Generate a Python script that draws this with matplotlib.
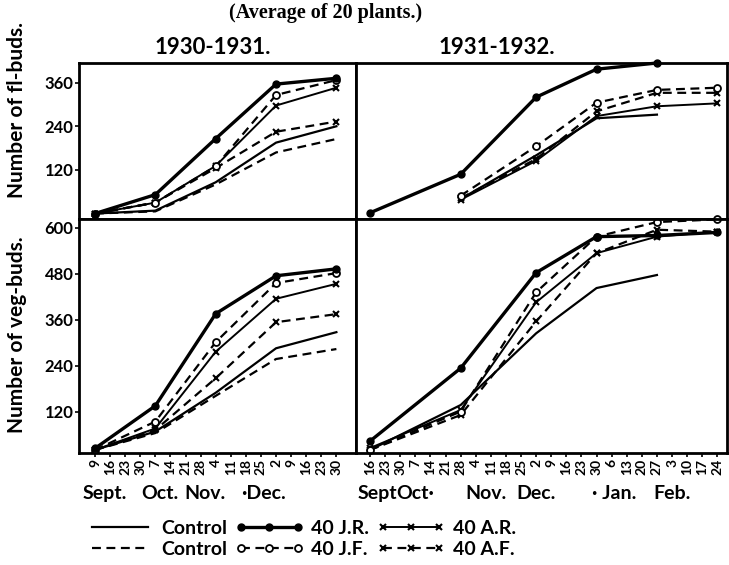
import matplotlib.pyplot as plt
from matplotlib.lines import Line2D

plt.rcParams['font.family'] = ['Lato', 'DejaVu Sans']
plt.rcParams['font.weight'] = 'bold'

# one tick per week
weeks_1930 = ['9', '16', '23', '30', '7', '14', '21', '28', '4', '11', '18', '25',
              '2', '9', '16', '23', '30']
weeks_1931 = ['16', '23', '30', '7', '14', '21', '28', '4', '11', '18', '25', '2',
              '9', '16', '23', '30', '6', '13', '20', '27', '3', '10', '17', '24']
months_1930 = ['Sept.', 'Oct.', 'Nov.', '·Dec.']
months_1931 = ['Sept', 'Oct·', 'Nov.', 'Dec.', '· Jan.', 'Feb.']

# counting dates, as week number from the first tick
obs_1930 = [0, 4, 8, 12, 16]
obs_1931 = [0, 6, 11, 15, 19, 23]

# flower buds 1930-31
fl30_control = [0, 8, 86, 195, 240]
fl30_control_f = [0, 6, 80, 168, 205]
fl30_jr = [0, 52, 206, 356, 372]
fl30_jf = [0, 30, 130, 326, 367]
fl30_ar = [0, 30, 131, 297, 346]
fl30_af = [0, 30, 125, 225, 253]

# flower buds 1931-32 (J.R. counted from Sept., the rest from end of Oct.)
fl31_jr = [2, 108, 320, 397, 414]
fl31_jf = [49, 185, 305, 340, 346]
fl31_ar = [38, 145, 268, 295, 303]
fl31_af = [42, 150, 281, 332, 332]
fl31_control = [40, 160, 262, 272]

# vegetative buds 1930-31
veg30_control = [21, 69, 170, 286, 328]
veg30_control_f = [21, 65, 162, 258, 284]
veg30_jr = [25, 136, 376, 475, 493]
veg30_jf = [21, 95, 302, 456, 482]
veg30_ar = [21, 77, 277, 415, 454]
veg30_af = [21, 73, 208, 354, 375]

# vegetative buds 1931-32
veg31_control = [21, 138, 325, 443, 477]
veg31_jr = [44, 234, 483, 577, 580, 588]
veg31_jf = [21, 121, 432, 577, 615, 622]
veg31_ar = [26, 125, 406, 534, 577, 590]
veg31_af = [21, 112, 356, 534, 595, 590]

dash = (0, (4, 2.5))
ctrl = dict(color='k', lw=1.6)
ctrl_f = dict(color='k', lw=1.6, ls=dash)
jr = dict(color='k', lw=2.4, marker='o', ms=5)
jf = dict(color='k', lw=1.6, ls=dash, marker='o', ms=5, mfc='white', mew=1.3)
ar = dict(color='k', lw=1.4, marker='x', ms=5, mew=1.5)
af = dict(color='k', lw=1.6, ls=dash, marker='x', ms=5, mew=1.5)

W, H = 729, 565
fig = plt.figure(figsize=(W / 100, H / 100), dpi=100)


def box(x0, x1, y0, y1):
    return [x0 / W, 1 - y1 / H, (x1 - x0) / W, (y1 - y0) / H]


ax_fl30 = fig.add_axes(box(79, 356, 63, 219))
ax_fl31 = fig.add_axes(box(356, 727, 63, 219))
ax_veg30 = fig.add_axes(box(79, 356, 219, 453))
ax_veg31 = fig.add_axes(box(356, 727, 219, 453))

for ax in (ax_fl30, ax_veg30):
    ax.set_xlim(-1.06, 17.3)
for ax in (ax_fl31, ax_veg31):
    ax.set_xlim(-0.93, 23.64)
for ax in (ax_fl30, ax_fl31):
    ax.set_ylim(-15, 414)
for ax in (ax_veg30, ax_veg31):
    ax.set_ylim(13, 623)

ax_fl30.plot(obs_1930, fl30_control, **ctrl)
ax_fl30.plot(obs_1930, fl30_control_f, **ctrl_f)
ax_fl30.plot(obs_1930, fl30_af, **af)
ax_fl30.plot(obs_1930, fl30_ar, **ar)
ax_fl30.plot(obs_1930, fl30_jf, **jf)
ax_fl30.plot(obs_1930, fl30_jr, **jr)

ax_fl31.plot(obs_1931[1:5], fl31_control, **ctrl)
ax_fl31.plot(obs_1931[1:], fl31_ar, **ar)
ax_fl31.plot(obs_1931[1:], fl31_af, **af)
ax_fl31.plot(obs_1931[1:], fl31_jf, **jf)
ax_fl31.plot(obs_1931[:5], fl31_jr, clip_on=False, **jr)

ax_veg30.plot(obs_1930, veg30_control, **ctrl)
ax_veg30.plot(obs_1930, veg30_control_f, **ctrl_f)
ax_veg30.plot(obs_1930, veg30_af, **af)
ax_veg30.plot(obs_1930, veg30_ar, **ar)
ax_veg30.plot(obs_1930, veg30_jf, **jf)
ax_veg30.plot(obs_1930, veg30_jr, **jr)

ax_veg31.plot(obs_1931[:5], veg31_control, **ctrl)
ax_veg31.plot(obs_1931, veg31_af, **af)
ax_veg31.plot(obs_1931, veg31_ar, **ar)
ax_veg31.plot(obs_1931, veg31_jf, clip_on=False, **jf)
ax_veg31.plot(obs_1931, veg31_jr, **jr)

for ax in (ax_fl30, ax_fl31, ax_veg30, ax_veg31):
    for s in ax.spines.values():
        s.set_linewidth(2)
    ax.tick_params(direction='out', length=3, width=1.2)

ax_fl30.set_yticks([120, 240, 360])
ax_veg30.set_yticks([120, 240, 360, 480, 600])
for ax in (ax_fl30, ax_veg30):
    ax.tick_params(axis='y', labelsize=12, pad=1)
for ax in (ax_fl31, ax_veg31):
    ax.set_yticks([])
for ax in (ax_fl30, ax_fl31):
    ax.set_xticks([])

ax_veg30.set_xticks(range(len(weeks_1930)))
ax_veg30.set_xticklabels(weeks_1930, rotation=90, fontsize=10)
ax_veg31.set_xticks(range(len(weeks_1931)))
ax_veg31.set_xticklabels(weeks_1931, rotation=90, fontsize=10)
for ax in (ax_veg30, ax_veg31):
    ax.tick_params(axis='x', pad=1)

# month names under the week ticks
for ax, names, pos in ((ax_veg30, months_1930, [0.66, 4.3, 7.3, 11.2]),
                       (ax_veg31, months_1931, [0.5, 3.0, 7.7, 11.0, 16.2, 20.0])):
    for name, p in zip(names, pos):
        ax.text(p, -0.175, name, transform=ax.get_xaxis_transform(),
                ha='center', va='center', fontsize=14)

fig.text(326 / W, 1 - 13 / H, '(Average of 20 plants.)', ha='center', va='center',
         fontsize=14.5, family=['Liberation Serif', 'DejaVu Serif'])
fig.text(213 / W, 1 - 47 / H, '1930-1931.', ha='center', va='center', fontsize=16)
fig.text(497 / W, 1 - 47 / H, '1931-1932.', ha='center', va='center', fontsize=16)
fig.text(17 / W, 1 - 110 / H, 'Number of fl-buds.', rotation=90,
         ha='center', va='center', fontsize=15)
fig.text(17 / W, 1 - 335 / H, 'Number of veg-buds.', rotation=90,
         ha='center', va='center', fontsize=15)

handles = [Line2D([], [], **ctrl), Line2D([], [], **ctrl_f),
           Line2D([], [], **jr), Line2D([], [], **jf),
           Line2D([], [], **ar), Line2D([], [], **af)]
labels = ['Control', 'Control', '40 J.R.', '40 J.F.', '40 A.R.', '40 A.F.']
fig.legend(handles, labels, ncol=3, loc='upper left',
           bbox_to_anchor=(76 / W, 1 - 510 / H), frameon=False, numpoints=3,
           handlelength=3.5, handletextpad=0.4, columnspacing=0.4,
           labelspacing=0.2, borderpad=0, fontsize=14)

fig.savefig('out.png', dpi=100)
